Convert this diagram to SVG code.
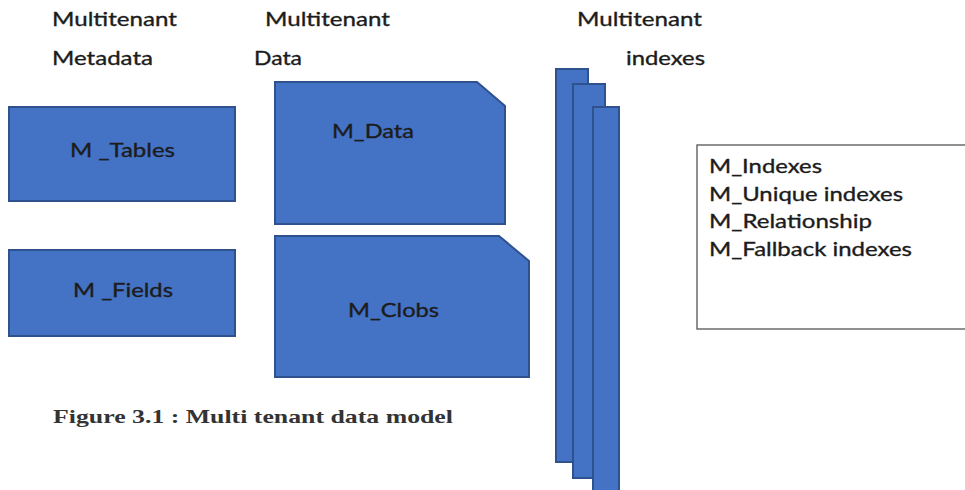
<svg xmlns="http://www.w3.org/2000/svg" width="965" height="490" viewBox="0 0 965 490">
<style>
.shape{fill:#4472C4;stroke:#2F528F;stroke-width:2}
.lbl{font-family:Lato,"Open Sans",sans-serif;font-size:20px;fill:#1c1c1c;stroke:#1c1c1c;stroke-width:0.35}
.cap{font-family:"Liberation Serif",serif;font-size:19px;font-weight:bold;fill:#333}
</style>
<rect width="965" height="490" fill="#fff"/>
<g id="headers">
<text class="lbl" x="52" y="26" textLength="125" lengthAdjust="spacingAndGlyphs">Multitenant</text>
<text class="lbl" x="52" y="65" textLength="101" lengthAdjust="spacingAndGlyphs">Metadata</text>
<text class="lbl" x="265" y="26" textLength="125" lengthAdjust="spacingAndGlyphs">Multitenant</text>
<text class="lbl" x="254" y="65" textLength="48" lengthAdjust="spacingAndGlyphs">Data</text>
<text class="lbl" x="577" y="26" textLength="125" lengthAdjust="spacingAndGlyphs">Multitenant</text>
<text class="lbl" x="626" y="65" textLength="79" lengthAdjust="spacingAndGlyphs">indexes</text>
</g>
<g id="m_tables">
<rect class="shape" x="9" y="107" width="226" height="94"/>
<text class="lbl" x="70" y="157" textLength="105" lengthAdjust="spacingAndGlyphs">M _Tables</text>
</g>
<g id="m_fields">
<rect class="shape" x="9" y="250" width="226" height="86"/>
<text class="lbl" x="73" y="297" textLength="100" lengthAdjust="spacingAndGlyphs">M _Fields</text>
</g>
<g id="m_data">
<path class="shape" d="M275,82 H477 L505,106 V224 H275 Z"/>
<text class="lbl" x="332" y="138" textLength="82" lengthAdjust="spacingAndGlyphs">M_Data</text>
</g>
<g id="m_clobs">
<path class="shape" d="M275,236 H499 L529,261 V377 H275 Z"/>
<text class="lbl" x="348" y="317" textLength="91" lengthAdjust="spacingAndGlyphs">M_Clobs</text>
</g>
<g id="index_bars">
<rect class="shape" x="556" y="69" width="32" height="393"/>
<rect class="shape" x="573" y="84" width="32" height="394"/>
<rect class="shape" x="593" y="107" width="26" height="390"/>
</g>
<g id="index_list">
<rect x="697" y="145" width="280" height="184" fill="#fff" stroke="#555" stroke-width="1.3"/>
<text class="lbl" x="709" y="173" textLength="113" lengthAdjust="spacingAndGlyphs">M_Indexes</text>
<text class="lbl" x="709" y="201" textLength="194" lengthAdjust="spacingAndGlyphs">M_Unique indexes</text>
<text class="lbl" x="709" y="228" textLength="163" lengthAdjust="spacingAndGlyphs">M_Relationship</text>
<text class="lbl" x="709" y="256" textLength="203" lengthAdjust="spacingAndGlyphs">M_Fallback indexes</text>
</g>
<g id="connectors"></g>
<text class="cap" x="53" y="423" textLength="400" lengthAdjust="spacingAndGlyphs">Figure 3.1 : Multi tenant data model</text>
</svg>
